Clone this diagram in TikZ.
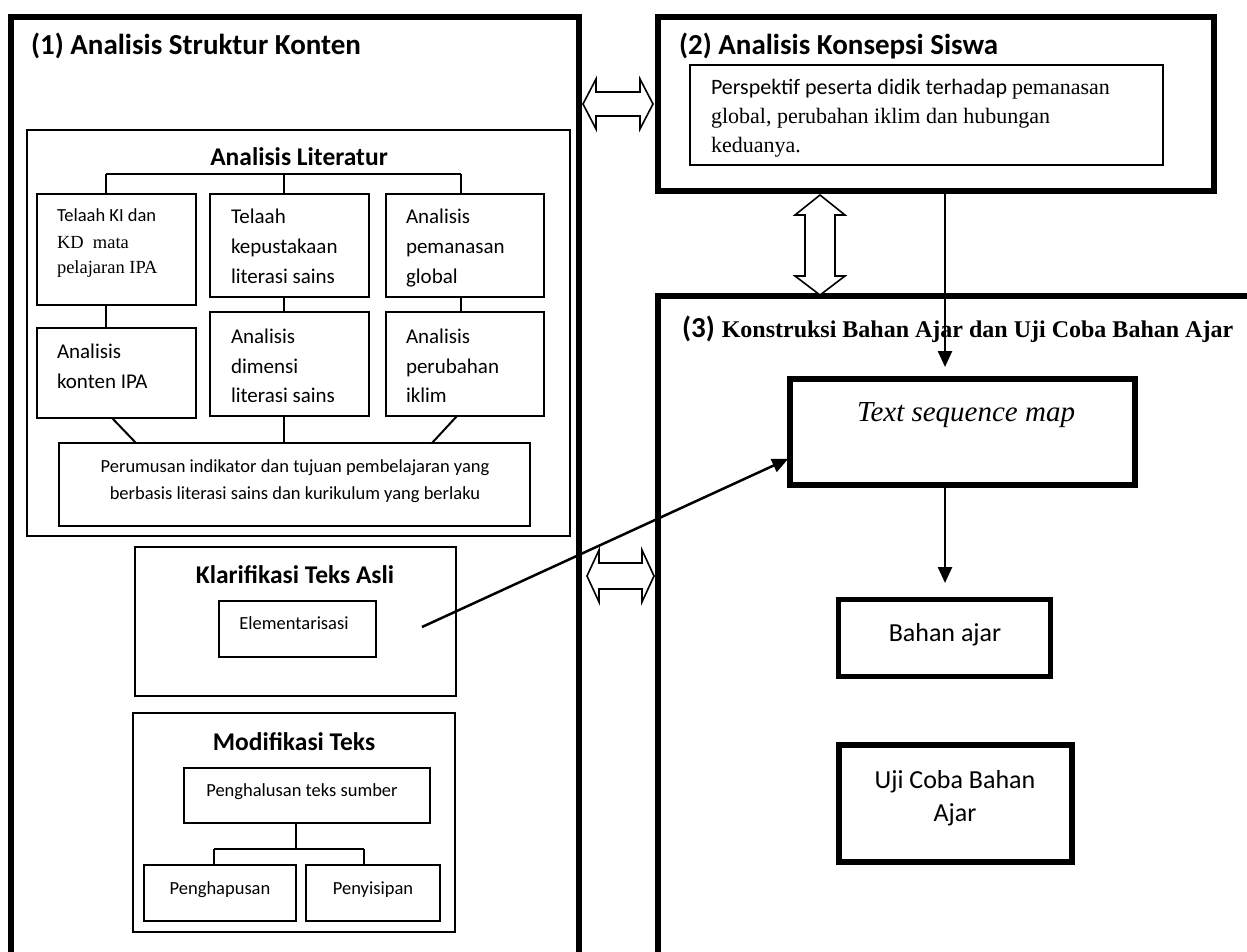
\documentclass[tikz,border=0pt]{standalone}
\usepackage{fontspec}
\setmainfont{Carlito}
\newfontfamily\tnr{Liberation Serif}
\usetikzlibrary{arrows.meta,calc}
\begin{document}
\begin{tikzpicture}[x=1pt,y=-1pt,
  bigbox/.style={draw, line width=5.5pt, inner sep=0pt, outer sep=0pt},
  thinbox/.style={draw, line width=2pt, inner sep=0pt, outer sep=0pt},
  lbl/.style={inner sep=0pt, outer sep=0pt, anchor=base west},
  clbl/.style={inner sep=0pt, outer sep=0pt, anchor=base},
  conn/.style={line width=2pt},
  arr/.style={line width=2.5pt, -{Triangle[length=16pt,width=14pt]}},
  dbl/.style={draw, fill=white, line width=1.6pt, line join=miter},
  hdr/.style={font=\fontsize{29}{34}\selectfont\bfseries},
  ttl/.style={font=\fontsize{25.5}{30}\selectfont\bfseries},
  big/.style={font=\fontsize{21}{25}\selectfont},
  sm/.style={font=\fontsize{18.5}{22}\selectfont},
  tsm/.style={font=\fontsize{18.5}{22}\selectfont\tnr},
  lg/.style={font=\fontsize{26}{30}\selectfont}
]
\useasboundingbox (0,0) rectangle (1247,952);
\clip (0,0) rectangle (1247,952);
\fill[white] (0,0) rectangle (1247,952);

% ---------- outer boxes ----------
\node[bigbox, minimum width=568pt, minimum height=960pt] (SK) at (295,497) {};
\node[bigbox, minimum width=556pt, minimum height=174pt] (KS) at (936,104) {};
\node[bigbox, minimum width=607pt, minimum height=684pt] (KB) at (961.5,638) {};

\node[lbl, hdr] (h1) at (31,55) {(1) Analisis Struktur Konten};
\node[lbl, hdr] (h2) at (679,55) {(2) Analisis Konsepsi Siswa};
\node[lbl] (h3) at (682,337) {{\fontsize{29}{34}\selectfont\bfseries (3)}\hspace{7pt}{\fontsize{24}{28}\selectfont\tnr\bfseries Konstruksi Bahan Ajar dan Uji Coba Bahan Ajar}};

% ---------- box 2 content ----------
\node[thinbox, minimum width=473pt, minimum height=100pt] (PP) at (926.5,115) {};
\node[lbl, font=\fontsize{22}{26}\selectfont] (pp1) at (711,95) {Perspektif peserta didik terhadap {\tnr pemanasan}};
\node[lbl, font=\fontsize{22}{26}\selectfont\tnr] (pp2) at (711,124) {global, perubahan iklim dan hubungan};
\node[lbl, font=\fontsize{22}{26}\selectfont\tnr] (pp3) at (711,153) {keduanya.};

% ---------- Analisis Literatur ----------
\node[draw, line width=2.5pt, inner sep=0pt, outer sep=0pt, minimum width=543pt, minimum height=406pt] (AL) at (298.5,333) {};
\node[clbl, ttl] (alt) at (299,166) {Analisis Literatur};

\node[thinbox, minimum width=159pt, minimum height=111pt] (A) at (116.5,249.5) {};
\node[thinbox, minimum width=159pt, minimum height=103pt] (B) at (289.5,245.5) {};
\node[thinbox, minimum width=158pt, minimum height=103pt] (C) at (465,245.5) {};
\node[thinbox, minimum width=159pt, minimum height=90pt] (A2) at (116.5,373) {};
\node[thinbox, minimum width=159pt, minimum height=104pt] (B2) at (289.5,364) {};
\node[thinbox, minimum width=158pt, minimum height=104pt] (C2) at (465,364) {};
\node[thinbox, minimum width=471pt, minimum height=83pt] (P) at (294.5,484.5) {};

\node[lbl, sm] (a1) at (57,222) {Telaah KI dan};
\node[lbl, tsm] (a2) at (57,248) {KD\ \ mata};
\node[lbl, tsm] (a3) at (57,273) {pelajaran IPA};
\node[lbl, big] (b1) at (231,223) {Telaah};
\node[lbl, big] (b2) at (231,253) {kepustakaan};
\node[lbl, big] (b3) at (231,283) {literasi sains};
\node[lbl, big] (c1) at (406,223) {Analisis};
\node[lbl, big] (c2) at (406,253) {pemanasan};
\node[lbl, big] (c3) at (406,283) {global};
\node[lbl, big] (d1) at (57,358) {Analisis};
\node[lbl, big] (d2) at (57,388) {konten IPA};
\node[lbl, big] (e1) at (231,343) {Analisis};
\node[lbl, big] (e2) at (231,373) {dimensi};
\node[lbl, big] (e3) at (231,402) {literasi sains};
\node[lbl, big] (f1) at (406,343) {Analisis};
\node[lbl, big] (f2) at (406,373) {perubahan};
\node[lbl, big] (f3) at (406,402) {iklim};
\node[clbl, sm] (p1) at (295,472) {Perumusan indikator dan tujuan pembelajaran yang};
\node[clbl, sm] (p2) at (295,499) {berbasis literasi sains dan kurikulum yang berlaku};

\coordinate (jA) at (106,174);
\coordinate (jB) at (284,174);
\coordinate (jC) at (461,174);
\draw[conn] (jA) -- (jC);
\draw[conn] (jA) -- (jA |- A.north);
\draw[conn] (jB) -- (jB |- B.north);
\draw[conn] (jC) -- (jC |- C.north);
\draw[conn] (jA |- A.south) -- (jA |- A2.north);
\draw[conn] (jB |- B.south) -- (jB |- B2.north);
\draw[conn] (jC |- C.south) -- (jC |- C2.north);
\draw[conn] ($(A2.south west)+(75,0)$) -- ($(P.north west)+(77,0)$);
\draw[conn] (jB |- B2.south) -- (jB |- P.north);
\draw[conn] ($(C2.south west)+(71,0)$) -- ($(P.north west)+(373,0)$);

% ---------- Klarifikasi ----------
\node[thinbox, minimum width=321pt, minimum height=149pt] (KT) at (295.5,621.5) {};
\node[clbl, ttl] (ktt) at (295,583) {Klarifikasi Teks Asli};
\node[thinbox, minimum width=157pt, minimum height=56pt] (EL) at (297.5,629) {};
\node[clbl, sm] (elt) at (294,629) {Elementarisasi};

% ---------- Modifikasi ----------
\node[thinbox, minimum width=322pt, minimum height=219pt] (MT) at (294,822.5) {};
\node[clbl, ttl] (mtt) at (294,750) {Modifikasi Teks};
\node[thinbox, minimum width=246pt, minimum height=55pt] (PH) at (307,795.5) {};
\node[clbl, sm] (pht) at (302,796) {Penghalusan teks sumber};
\node[thinbox, minimum width=152pt, minimum height=56pt] (HP) at (220,893) {};
\node[clbl, sm] (hpt) at (220,894) {Penghapusan};
\node[thinbox, minimum width=134pt, minimum height=56pt] (SP) at (373,893) {};
\node[clbl, sm] (spt) at (373,894) {Penyisipan};
\coordinate (jm) at (296,849);
\coordinate (jl) at (214,849);
\coordinate (jr) at (364,849);
\draw[conn] (jm |- PH.south) -- (jm);
\draw[conn] (jl) -- (jr);
\draw[conn] (jl) -- (jl |- HP.north);
\draw[conn] (jr) -- (jr |- SP.north);

% ---------- box 3 content ----------
\node[draw, line width=6pt, inner sep=0pt, outer sep=0pt, minimum width=345pt, minimum height=106pt] (TSM) at (962.5,432) {};
\node[clbl, font=\fontsize{29}{34}\selectfont\tnr\itshape] (tsmt) at (966,421) {Text sequence map};
\node[draw, line width=5pt, inner sep=0pt, outer sep=0pt, minimum width=212pt, minimum height=77pt] (BA) at (944,637.5) {};
\node[clbl, lg] (bat) at (945,641) {Bahan ajar};
\node[draw, line width=6pt, inner sep=0pt, outer sep=0pt, minimum width=233pt, minimum height=117pt] (UJ) at (955.5,803.5) {};
\node[clbl, lg] (uj1) at (955,788) {Uji Coba Bahan};
\node[clbl, lg] (uj2) at (955,821) {Ajar};

% ---------- connectors ----------
\coordinate (v) at (945,0);
\draw[arr, shorten >=12pt] (v |- KS.south) -- (v |- TSM.north);
\draw[arr, shorten >=16pt] (v |- TSM.south) -- (v |- BA.north);
\coordinate (e) at (422,627);
\draw[arr, shorten >=2pt] (e) -- ($(TSM.south west)+(0,-27)$);

% ---------- double arrows ----------
\draw[dbl] (583,104) -- (596,79) -- (596,92) -- (640,92) -- (640,79) -- (653,104) -- (640,129) -- (640,116) -- (596,116) -- (596,129) -- cycle;
\draw[dbl] (587,576) -- (599,550) -- (599,563) -- (642,563) -- (642,550) -- (654,576) -- (642,602) -- (642,589) -- (599,589) -- (599,602) -- cycle;
\draw[dbl] (820,195) -- (845,215) -- (835,215) -- (835,276) -- (845,276) -- (820,295) -- (795,276) -- (805,276) -- (805,215) -- (795,215) -- cycle;
\end{tikzpicture}
\end{document}
